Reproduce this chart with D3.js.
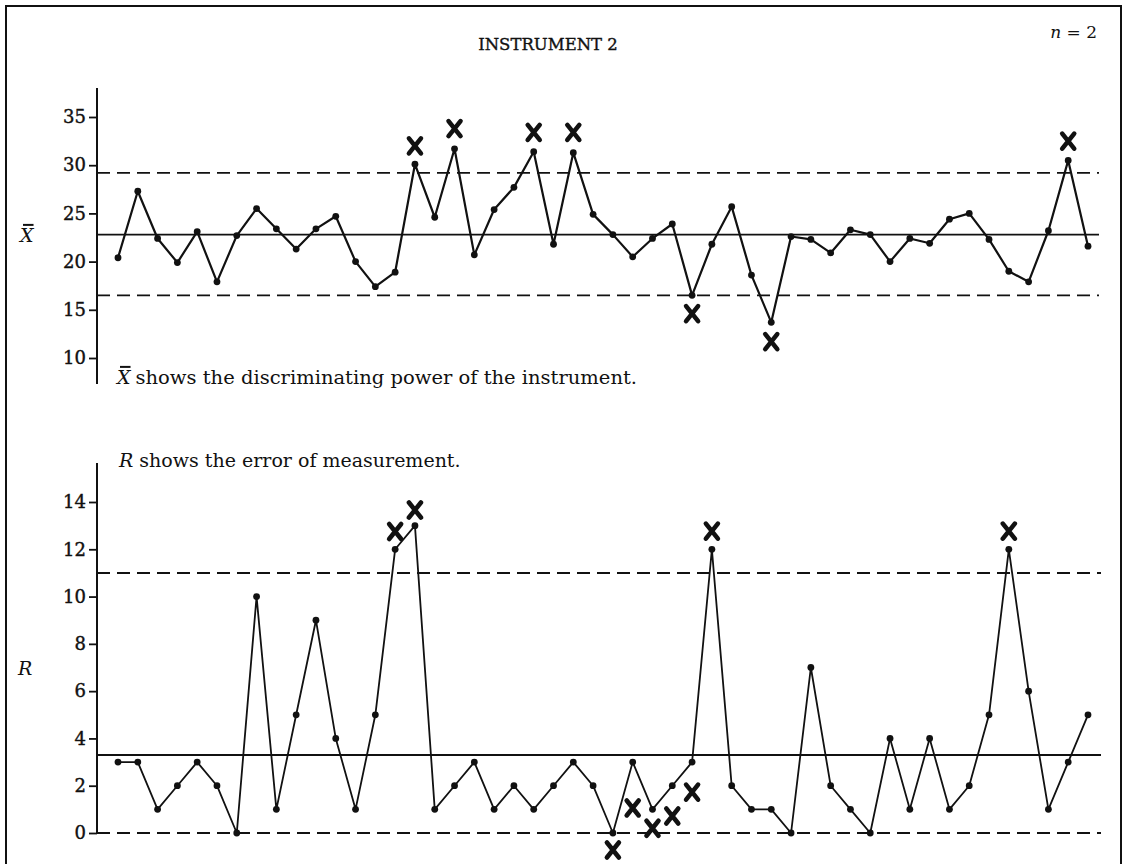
<!DOCTYPE html>
<html>
<head>
<meta charset="utf-8">
<script src="https://cdn.jsdelivr.net/npm/d3@7/dist/d3.min.js"></script>
<style>
  html, body { margin: 0; padding: 0; background: #fff; }
  svg { display: block; }
  text { font-family: "DejaVu Serif", "Liberation Serif", serif; fill: #111; }
</style>
</head>
<body>
<svg id="chart" width="1129" height="864"></svg>
<script>
// Sample numbers along the horizontal direction
const samples = d3.range(1, 51);

// Sample means (X-bar) for each subgroup of n = 2
const xbarValues = [
  20.4, 27.3, 22.4, 19.9, 23.1, 17.9, 22.7, 25.5, 23.4, 21.3,
  23.4, 24.7, 20.0, 17.4, 18.9, 30.1, 24.6, 31.7, 20.7, 25.4,
  27.7, 31.4, 21.8, 31.3, 24.9, 22.8, 20.5, 22.4, 23.9, 16.5,
  21.8, 25.7, 18.6, 13.7, 22.6, 22.3, 20.9, 23.3, 22.8, 20.0,
  22.4, 21.9, 24.4, 25.0, 22.3, 19.0, 17.9, 23.2, 30.5, 21.6
];

// Sample ranges (R) for the same subgroups
const rangeValues = [
  3, 3, 1, 2, 3, 2, 0, 10, 1, 5,
  9, 4, 1, 5, 12, 13, 1, 2, 3, 1,
  2, 1, 2, 3, 2, 0, 3, 1, 2, 3,
  12, 2, 1, 1, 0, 7, 2, 1, 0, 4,
  1, 4, 1, 2, 5, 12, 6, 1, 3, 5
];

// Control limits: lower, central line, upper
const xbarLimits = [16.5, 22.8, 29.2];
const rangeLimits = [0, 3.3, 11.0];

// Axis tick values
const xbarTicks = [10, 15, 20, 25, 30, 35];
const rangeTicks = [0, 2, 4, 6, 8, 10, 12, 14];

// Out-of-control flags: [sample number, level at which the X is set]
const xbarFlags = [[16, 32.0], [18, 33.8], [22, 33.4], [24, 33.4], [49, 32.5], [30, 14.6], [34, 11.7]];
const rangeFlags = [[15, 12.75], [16, 13.66], [31, 12.77], [46, 12.77],
                    [26, -0.72], [27, 1.06], [28, 0.2], [29, 0.72], [30, 1.73]];

const svg = d3.select("#chart");
const ink = "#111";

// Outer frame
svg.append("path")
  .attr("d", "M6,870V6H1121V870")
  .attr("fill", "none").attr("stroke", ink).attr("stroke-width", 2);

// Title and subgroup size
svg.append("text").attr("x", 548).attr("y", 50)
  .attr("text-anchor", "middle").attr("font-size", 16.5)
  .attr("font-family", "Liberation Serif, serif")
  .attr("stroke", ink).attr("stroke-width", 0.35)
  .text("INSTRUMENT 2");
const nLabel = svg.append("text").attr("x", 1097).attr("y", 38)
  .attr("text-anchor", "end").attr("font-size", 17);
nLabel.append("tspan").attr("font-style", "italic").text("n");
nLabel.append("tspan").text(" = 2");

const x = d3.scaleLinear().domain([1, 50]).range([118, 1088]);

function panel(opts) {
  const { y, values, limits, ticks, flags, axisTop, axisBottom, lineRight, lineWidth } = opts;
  const g = svg.append("g");

  // vertical axis with ticks on the left
  g.append("line").attr("x1", 97).attr("x2", 97)
    .attr("y1", axisTop).attr("y2", axisBottom)
    .attr("stroke", ink).attr("stroke-width", 2);
  const ax = g.append("g").attr("transform", "translate(97,0)")
    .call(d3.axisLeft(y).tickValues(ticks).tickSize(8).tickPadding(3).tickFormat(d3.format("d")));
  ax.select(".domain").remove();
  ax.selectAll(".tick line").attr("stroke", ink).attr("stroke-width", 1.8);
  ax.selectAll(".tick text")
    .attr("font-family", "DejaVu Serif, serif").attr("font-size", 18).attr("fill", ink)
    .attr("stroke", ink).attr("stroke-width", 0.4);

  // control limits
  limits.forEach((v, i) => {
    g.append("line")
      .attr("x1", 97).attr("x2", lineRight)
      .attr("y1", y(v)).attr("y2", y(v))
      .attr("stroke", ink).attr("stroke-width", 1.9)
      .attr("stroke-dasharray", i === 1 ? null : "13,7");
  });

  // data line and points
  const line = d3.line().x((d, i) => x(samples[i])).y(d => y(d));
  g.append("path").datum(values)
    .attr("d", line).attr("fill", "none")
    .attr("stroke", ink).attr("stroke-width", lineWidth).attr("stroke-linejoin", "round");
  g.selectAll("circle.pt").data(values).join("circle")
    .attr("class", "pt")
    .attr("cx", (d, i) => x(samples[i])).attr("cy", d => y(d)).attr("r", 3.4)
    .attr("fill", ink);

  // flags
  g.selectAll("path.flag").data(flags).join("path")
    .attr("class", "flag")
    .attr("transform", d => `translate(${x(d[0])},${y(d[1])})`)
    .attr("d", "M-6,-7.5L6,7.5M6,-7.5L-6,7.5")
    .attr("stroke", ink).attr("stroke-width", 4.6).attr("stroke-linecap", "round")
    .attr("fill", "none");
}

const yTop = d3.scaleLinear().domain([10, 35]).range([358, 117]);
const yBot = d3.scaleLinear().domain([0, 14]).range([833, 502]);

panel({ y: yTop, values: xbarValues, limits: xbarLimits, ticks: xbarTicks, flags: xbarFlags,
        axisTop: 88, axisBottom: 384, lineRight: 1099, lineWidth: 2.2 });
panel({ y: yBot, values: rangeValues, limits: rangeLimits, ticks: rangeTicks, flags: rangeFlags,
        axisTop: 463, axisBottom: 834, lineRight: 1101, lineWidth: 1.8 });

// Italic symbol with an overbar, returns its width
function barredX(px, py, size) {
  const t = svg.append("text").attr("x", px).attr("y", py)
    .attr("font-size", size).attr("font-style", "italic").text("X");
  const w = t.node().getComputedTextLength();
  svg.append("line")
    .attr("x1", px + w * 0.22).attr("x2", px + w * 1.0)
    .attr("y1", py - size * 0.9).attr("y2", py - size * 0.9)
    .attr("stroke", ink).attr("stroke-width", 2);
  return w;
}

// axis titles
barredX(20, 242, 19);
svg.append("text").attr("x", 18).attr("y", 675)
  .attr("font-size", 19).attr("font-style", "italic").text("R");

// explanatory notes
const wx = barredX(117, 384, 19);
svg.append("text").attr("x", 117 + wx + 5).attr("y", 384)
  .attr("font-size", 19).attr("textLength", 520 - wx - 5).attr("lengthAdjust", "spacingAndGlyphs")
  .text("shows the discriminating power of the instrument.");

const rNote = svg.append("text").attr("x", 119).attr("y", 467).attr("font-size", 19);
rNote.append("tspan").attr("font-style", "italic").text("R");
rNote.append("tspan").text(" shows the error of measurement.");
</script>
</body>
</html>
